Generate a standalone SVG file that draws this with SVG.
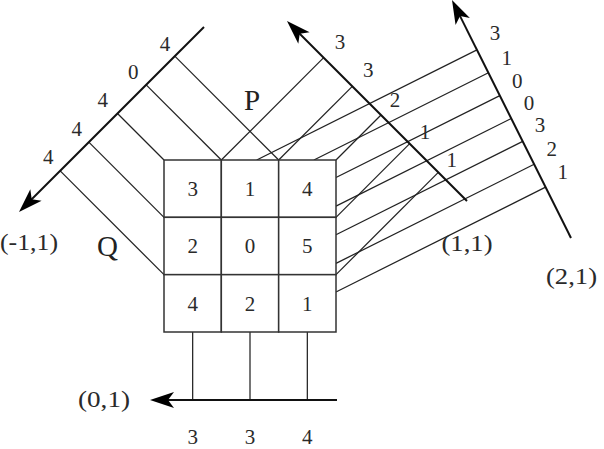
<svg xmlns="http://www.w3.org/2000/svg" width="604" height="449" viewBox="0 0 604 449">
<style>
.cell{fill:#fff;stroke:#333;stroke-width:1.5}
.proj{stroke:#222;stroke-width:1.25;fill:none}
.axis{stroke:#111;stroke-width:2;fill:none}
.d{font-family:"Liberation Serif",serif;font-size:21px;fill:#2a2a2a;text-anchor:middle}
.c{font-family:"Liberation Serif",serif;font-size:23px;fill:#2a2a2a}
.big{font-family:"Liberation Serif",serif;font-size:29px;fill:#222;text-anchor:middle}
</style>
<defs>
<marker id="arr" markerUnits="userSpaceOnUse" markerWidth="28" markerHeight="20" viewBox="-13 -10 28 20" refX="0" refY="0" orient="auto">
<path d="M13,0 L-11,-8 L-5,0 L-11,8 Z" fill="#000"/>
</marker>
</defs>
<rect width="604" height="449" fill="#fff"/>

<g id="connectors">
<!-- (-1,1) projection lines -->
<line class="proj" x1="278.67" y1="160" x2="174.83" y2="56.17"/>
<line class="proj" x1="221.33" y1="160" x2="146.17" y2="84.83"/>
<line class="proj" x1="164" y1="160" x2="117.5" y2="113.5"/>
<line class="proj" x1="164" y1="217.33" x2="88.83" y2="142.17"/>
<line class="proj" x1="164" y1="274.67" x2="60.17" y2="170.83"/>
<!-- (1,1) projection lines -->
<line class="proj" x1="221.33" y1="160" x2="323.67" y2="57.67"/>
<line class="proj" x1="278.67" y1="160" x2="352.33" y2="86.33"/>
<line class="proj" x1="336" y1="160" x2="381" y2="115"/>
<line class="proj" x1="336" y1="217.33" x2="409.67" y2="143.67"/>
<line class="proj" x1="336" y1="274.67" x2="438.33" y2="172.33"/>
<!-- (2,1) projection lines -->
<line class="proj" x1="256.7" y1="160" x2="476.94" y2="49.88"/>
<line class="proj" x1="313.9" y1="160" x2="488.38" y2="72.76"/>
<line class="proj" x1="336" y1="177.55" x2="499.82" y2="95.64"/>
<line class="proj" x1="336" y1="206.15" x2="511.26" y2="118.52"/>
<line class="proj" x1="336" y1="234.75" x2="522.7" y2="141.4"/>
<line class="proj" x1="336" y1="263.35" x2="534.14" y2="164.28"/>
<line class="proj" x1="336" y1="291.95" x2="545.58" y2="187.16"/>
<!-- (0,1) projection lines -->
<line class="proj" x1="192.67" y1="332" x2="192.67" y2="400"/>
<line class="proj" x1="250" y1="332" x2="250" y2="400"/>
<line class="proj" x1="307.33" y1="332" x2="307.33" y2="400"/>
</g>

<g id="axis-m11">
<line class="axis" x1="204" y1="27" x2="28.19" y2="202.81" marker-end="url(#arr)"/>
<text class="d" x="165" y="50.5">4</text>
<text class="d" x="133.3" y="79">0</text>
<text class="d" x="102.7" y="107.3">4</text>
<text class="d" x="76.7" y="135.6">4</text>
<text class="d" x="48.3" y="164">4</text>
<text class="c" x="0" y="249.5" textLength="58" lengthAdjust="spacingAndGlyphs">(-1,1)</text>
</g>

<g id="axis-11">
<line class="axis" x1="467" y1="201" x2="296.19" y2="30.19" marker-end="url(#arr)"/>
<text class="d" x="340" y="49">3</text>
<text class="d" x="368.3" y="77.3">3</text>
<text class="d" x="395" y="107.3">2</text>
<text class="d" x="425" y="139">1</text>
<text class="d" x="451.7" y="167.3">1</text>
<text class="c" x="441.5" y="250.5" textLength="51" lengthAdjust="spacingAndGlyphs">(1,1)</text>
</g>

<g id="axis-21">
<line class="axis" x1="571" y1="238" x2="457.81" y2="11.63" marker-end="url(#arr)"/>
<text class="d" x="495" y="40.3">3</text>
<text class="d" x="506.7" y="65.3">1</text>
<text class="d" x="517.3" y="88.3">0</text>
<text class="d" x="529" y="110.3">0</text>
<text class="d" x="540" y="132.3">3</text>
<text class="d" x="551.7" y="155.6">2</text>
<text class="d" x="562.7" y="179">1</text>
<text class="c" x="546" y="284" textLength="51" lengthAdjust="spacingAndGlyphs">(2,1)</text>
</g>

<g id="axis-01">
<line class="axis" x1="337" y1="400" x2="163" y2="400" marker-end="url(#arr)"/>
<text class="d" x="192.67" y="444">3</text>
<text class="d" x="250" y="444">3</text>
<text class="d" x="307.33" y="444">4</text>
<text class="c" x="78" y="406.5" textLength="52" lengthAdjust="spacingAndGlyphs">(0,1)</text>
</g>

<g id="label-P"><text class="big" x="252" y="110">P</text></g>
<g id="label-Q"><text class="big" x="107.5" y="256">Q</text></g>

<g id="cell-0-0"><rect class="cell" x="164" y="160" width="57.33" height="57.33"/><text class="d" x="192.67" y="196">3</text></g>
<g id="cell-1-0"><rect class="cell" x="221.33" y="160" width="57.33" height="57.33"/><text class="d" x="250" y="196">1</text></g>
<g id="cell-2-0"><rect class="cell" x="278.67" y="160" width="57.33" height="57.33"/><text class="d" x="307.33" y="196">4</text></g>
<g id="cell-0-1"><rect class="cell" x="164" y="217.33" width="57.33" height="57.33"/><text class="d" x="192.67" y="253.3">2</text></g>
<g id="cell-1-1"><rect class="cell" x="221.33" y="217.33" width="57.33" height="57.33"/><text class="d" x="250" y="253.3">0</text></g>
<g id="cell-2-1"><rect class="cell" x="278.67" y="217.33" width="57.33" height="57.33"/><text class="d" x="307.33" y="253.3">5</text></g>
<g id="cell-0-2"><rect class="cell" x="164" y="274.67" width="57.33" height="57.33"/><text class="d" x="192.67" y="310.6">4</text></g>
<g id="cell-1-2"><rect class="cell" x="221.33" y="274.67" width="57.33" height="57.33"/><text class="d" x="250" y="310.6">2</text></g>
<g id="cell-2-2"><rect class="cell" x="278.67" y="274.67" width="57.33" height="57.33"/><text class="d" x="307.33" y="310.6">1</text></g>
</svg>
